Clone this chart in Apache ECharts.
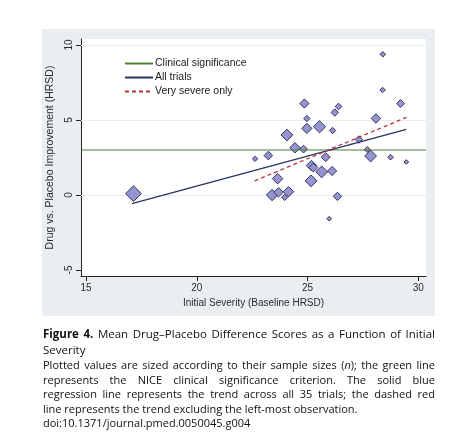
<!DOCTYPE html>
<html><head><meta charset="utf-8">
<script src="https://cdn.jsdelivr.net/npm/echarts/dist/echarts.min.js"></script>
<style>
html,body{margin:0;padding:0;background:#fff;width:451px;height:432px;overflow:hidden;}
#chart{position:absolute;left:0;top:0;width:451px;height:432px;}
#caption{position:absolute;left:43px;top:326px;width:392px;font-family:'Open Sans',sans-serif;color:#111;}
.ln{white-space:nowrap;text-align:justify;text-align-last:justify;}
.last{text-align-last:left;}
.t{font-size:11.5px;line-height:16px;}
.b{font-size:11px;line-height:14.5px;}
</style></head>
<body>
<div id="chart"></div>
<div id="caption">
  <div class="ln t"><b>Figure 4.</b> Mean Drug–Placebo Difference Scores as a Function of Initial</div>
  <div class="ln t last">Severity</div>
  <div class="ln b">Plotted values are sized according to their sample sizes (<i>n</i>); the green line</div>
  <div class="ln b">represents the NICE clinical significance criterion. The solid blue</div>
  <div class="ln b">regression line represents the trend across all 35 trials; the dashed red</div>
  <div class="ln b last">line represents the trend excluding the left-most observation.</div>
  <div class="ln b last">doi:10.1371/journal.pmed.0050045.g004</div>
</div>
<script>
// ---- data ----
const severity = [17.14, 28.40, 28.39, 29.20, 24.86, 26.40, 26.23, 24.97, 28.09, 24.97,
                  25.54, 26.13, 24.07, 27.32, 24.43, 24.82, 27.70, 27.85, 23.23, 22.63,
                  25.82, 28.75, 29.46, 25.18, 25.26, 25.64, 26.11, 23.65, 25.16, 23.40,
                  23.69, 24.14, 23.97, 26.35, 25.98];
const improvement = [0.09, 9.38, 7.00, 6.10, 6.10, 5.90, 5.50, 5.10, 5.10, 4.44,
                     4.55, 4.30, 4.00, 3.70, 3.15, 3.06, 3.03, 2.60, 2.63, 2.41,
                     2.52, 2.52, 2.20, 1.96, 1.83, 1.54, 1.60, 1.09, 0.94, 0.00,
                     0.18, 0.22, -0.16, -0.09, -1.58];
const sampleSize = [250, 30, 30, 64, 85, 45, 55, 40, 90, 105,
                    150, 40, 140, 55, 110, 60, 35, 140, 75, 28,
                    80, 32, 22, 110, 80, 140, 85, 110, 140, 130,
                    90, 110, 38, 70, 22];
const niceCriterion = 3;
const allTrialsX = [17.07, 29.46];
const allTrialsY = [-0.58, 4.37];
const severeX = [22.61, 29.47];
const severeY = [0.94, 5.18];
const xTicks = [15, 20, 25, 30];
const yTicks = [-5, 0, 5, 10];
const gridValues = [0, 5, 10];
const seriesNames = ['Clinical significance', 'All trials', 'Very severe only'];
const xTitle = 'Initial Severity (Baseline HRSD)';
const yTitle = 'Drug vs. Placebo Improvement (HRSD)';

// ---- chart ----
const X_MIN = 14.77, X_MAX = 30.35, Y_MIN = -5.4, Y_MAX = 10.4;
const FONT = 'Liberation Sans, Arial, sans-serif';
const points = severity.map((s, i) => [s, improvement[i], sampleSize[i]]);

const chart = echarts.init(document.getElementById('chart'), null, {renderer: 'canvas'});
chart.setOption({
  animation: false,
  backgroundColor: '#ffffff',
  graphic: [{
    type: 'rect', z: -10, silent: true,
    shape: {x: 42, y: 29, width: 393, height: 287},
    style: {fill: '#eaeef1'}
  }],
  grid: {left: 81, right: 25, top: 39, bottom: 156, show: true,
         backgroundColor: '#ffffff', borderWidth: 0},
  legend: {
    orient: 'vertical', left: 124, top: 58, padding: 0,
    itemWidth: 28, itemHeight: 10, itemGap: 3,
    data: seriesNames,
    itemStyle: {opacity: 0, borderWidth: 0},
    textStyle: {fontFamily: FONT, fontSize: 10.5, color: '#1a1a1a', padding: [0, 0, 0, -3]}
  },
  xAxis: {
    type: 'value', min: X_MIN, max: X_MAX,
    name: xTitle, nameLocation: 'middle', nameGap: 19,
    nameTextStyle: {fontFamily: FONT, fontSize: 10, color: '#2a2a2a'},
    axisLine: {show: true, onZero: false, lineStyle: {color: '#222', width: 1}},
    axisTick: {show: true, length: 5, customValues: xTicks, lineStyle: {color: '#222'}},
    axisLabel: {customValues: xTicks, margin: 7, fontFamily: FONT, fontSize: 10, color: '#2a2a2a'},
    splitLine: {show: false}
  },
  yAxis: {
    type: 'value', min: Y_MIN, max: Y_MAX,
    name: yTitle, nameLocation: 'middle', nameGap: 15,
    nameTextStyle: {fontFamily: FONT, fontSize: 10.5, color: '#2a2a2a'},
    axisLine: {show: true, onZero: false, lineStyle: {color: '#222', width: 1}},
    axisTick: {show: true, length: 5, customValues: yTicks, lineStyle: {color: '#222'}},
    axisLabel: {customValues: yTicks, rotate: 90, margin: 7, fontFamily: FONT, fontSize: 10, color: '#2a2a2a'},
    splitLine: {show: false}
  },
  series: [
    {
      type: 'scatter', name: 'trials', z: 2,
      symbol: 'diamond',
      symbolSize: d => Math.sqrt(d[2]),
      data: points,
      itemStyle: {color: '#9494d0', borderColor: '#26264f', borderWidth: 0.9, opacity: 1},
      markLine: {
        silent: true, symbol: 'none', label: {show: false}, z: 1,
        lineStyle: {color: '#e7edf0', width: 1, type: 'solid'},
        data: gridValues.map(v => ({yAxis: v}))
      }
    },
    {
      type: 'line', name: seriesNames[0], z: 3, symbol: 'none',
      data: [[X_MIN, niceCriterion], [X_MAX, niceCriterion]],
      lineStyle: {color: '#4f7d34', width: 1.1},
      itemStyle: {color: '#4f7d34'}
    },
    {
      type: 'line', name: seriesNames[1], z: 4, symbol: 'none',
      data: allTrialsX.map((x, i) => [x, allTrialsY[i]]),
      lineStyle: {color: '#2a3360', width: 1.3},
      itemStyle: {color: '#2a3360'}
    },
    {
      type: 'line', name: seriesNames[2], z: 5, symbol: 'none',
      data: severeX.map((x, i) => [x, severeY[i]]),
      lineStyle: {color: '#b8343f', width: 1.3, type: [4, 3]},
      itemStyle: {color: '#b8343f'}
    }
  ]
});
</script>
</body></html>
